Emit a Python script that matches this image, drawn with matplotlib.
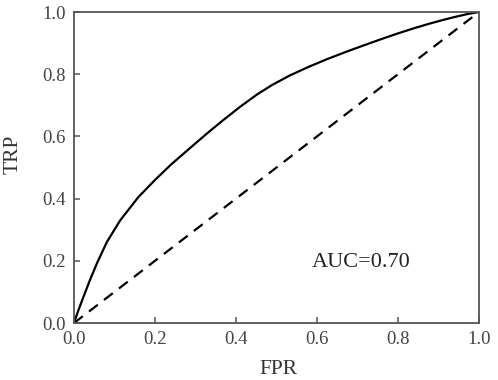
import matplotlib.pyplot as plt

# ROC curve points
fpr = [0.0, 0.01, 0.023, 0.04, 0.058, 0.081, 0.114, 0.159, 0.2, 0.24,
       0.286, 0.328, 0.369, 0.41, 0.451, 0.49, 0.533, 0.58, 0.624, 0.67,
       0.714, 0.757, 0.797, 0.84, 0.879, 0.91, 0.937, 0.97, 1.0]
tpr = [0.0, 0.038, 0.083, 0.14, 0.196, 0.26, 0.33, 0.405, 0.46, 0.51,
       0.562, 0.609, 0.653, 0.695, 0.734, 0.766, 0.796, 0.824, 0.848, 0.871,
       0.892, 0.912, 0.930, 0.948, 0.963, 0.974, 0.983, 0.993, 1.0]
diag = [0.0, 1.0]
ticks = [0.0, 0.2, 0.4, 0.6, 0.8, 1.0]
tick_labels = ['0.0', '0.2', '0.4', '0.6', '0.8', '1.0']
auc_text = 'AUC=0.70'

plt.rcParams['font.family'] = ['Liberation Serif', 'DejaVu Serif']

fig = plt.figure(figsize=(4.98, 3.80), dpi=100)
ax = fig.add_axes([0.1486, 0.15, 0.8132, 0.8184])

ax.plot(fpr, tpr, color='black', lw=1.6, solid_joinstyle='round')
ax.plot(diag, diag, color='black', lw=1.6, linestyle=(0, (5, 3.5)))

ax.set_xlim(0, 1)
ax.set_ylim(0, 1)
ax.set_xticks(ticks)
ax.set_xticklabels(tick_labels)
ax.set_yticks(ticks)
ax.set_yticklabels(tick_labels)

for s in ax.spines.values():
    s.set_color('#555555')
    s.set_linewidth(1.3)
ax.tick_params(direction='in', length=4, width=1.1, color='#555555',
               labelsize=13.5, labelcolor='#444444', pad=6)

ax.set_xlabel('FPR', fontsize=15.5, color='#333333')
ax.set_ylabel('TRP', fontsize=15.5, color='#333333')
ax.xaxis.set_label_coords(0.506, -0.118)
ax.yaxis.set_label_coords(-0.128, 0.543)

ax.text(0.709, 0.193, auc_text, fontsize=16, color='#222222',
        ha='center', va='center', transform=ax.transAxes)

fig.savefig('out.png', dpi=100)
